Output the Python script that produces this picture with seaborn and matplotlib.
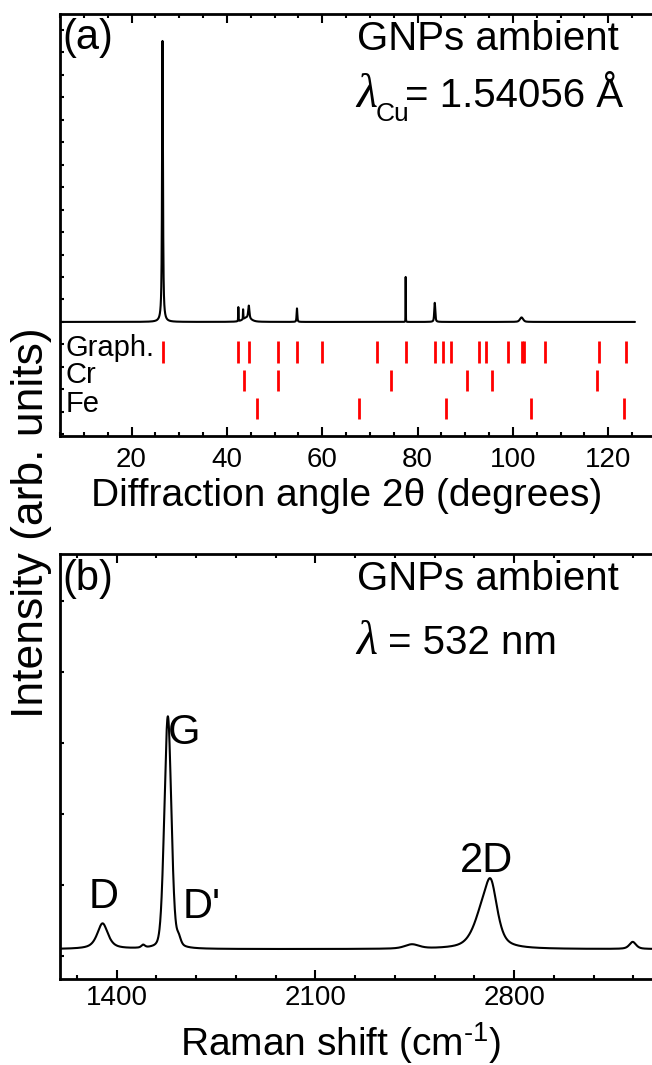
import numpy as np
import pandas as pd
import matplotlib
matplotlib.use("Agg")
import matplotlib.pyplot as plt
from matplotlib.ticker import MultipleLocator
import seaborn as sns

# ---------------- XRD pattern (Cu K-alpha) ----------------
xrd_range = (5.0, 125.6)
xrd_pos = [26.5, 42.4, 43.4, 44.6, 44.2, 54.7, 77.5, 83.6, 101.8]
xrd_height = [100.0, 5.0, 3.5, 4.5, 1.5, 4.8, 16.0, 6.8, 1.6]
xrd_fwhm = [0.22, 0.08, 0.08, 0.30, 2.0, 0.18, 0.06, 0.25, 0.8]
xrd_eta = [0.8, 0.5, 0.5, 0.6, 0.5, 0.6, 0.3, 0.6, 0.5]

# reference reflections (2theta, degrees)
graph_refl = [26.5, 42.4, 44.6, 50.7, 54.7, 59.9, 71.5, 77.5, 83.6, 85.4, 87.1,
              92.9, 94.3, 99.0, 101.9, 102.4, 106.7, 118.0, 123.8]
cr_refl = [43.5, 50.7, 74.5, 90.4, 95.7, 117.6]
fe_refl = [46.4, 67.7, 85.9, 103.7, 123.2]
phase_names = ["Graph.", "Cr", "Fe"]

# ---------------- Raman spectrum (532 nm) ----------------
raman_range = (1200.0, 3300.0)
raman_base = 0.10
raman_pos = [1350, 1493, 1580, 1618, 2440, 2682, 2718, 3218]
raman_height = [0.36, 0.04, 3.27, 0.12, 0.06, 0.35, 0.82, 0.10]
raman_fwhm = [45, 15, 29, 18, 60, 70, 55, 28]
raman_eta = [0.7, 0.5, 0.2, 0.5, 0.5, 0.6, 0.6, 0.6]
raman_labels = ["D", "G", "D'", "2D"]


def pseudo_voigt(x, pos, height, fwhm, eta):
    y = np.zeros_like(x)
    for p, h, w, e in zip(pos, height, fwhm, eta):
        hw = w / 2.0
        lor = 1.0 / (1.0 + ((x - p) / hw) ** 2)
        gau = np.exp(-np.log(2) * ((x - p) / hw) ** 2)
        y += h * (e * lor + (1 - e) * gau)
    return y


tt = np.arange(xrd_range[0], xrd_range[1], 0.01)
xrd_df = pd.DataFrame({"two_theta": tt,
                       "I": pseudo_voigt(tt, xrd_pos, xrd_height, xrd_fwhm, xrd_eta)})

shift = np.arange(raman_range[0], raman_range[1], 0.5)
raman_df = pd.DataFrame({"shift": shift,
                         "I": raman_base + pseudo_voigt(shift, raman_pos, raman_height,
                                                        raman_fwhm, raman_eta)})

# ---------------- figure ----------------
sns.set_theme(style="ticks")
plt.rcParams["font.family"] = ["Liberation Sans", "DejaVu Sans"]
plt.rcParams["mathtext.fontset"] = "custom"
plt.rcParams["mathtext.rm"] = "Liberation Sans"
plt.rcParams["text.color"] = "black"
plt.rcParams["axes.labelcolor"] = "black"

W, H = 652, 1065
fig = plt.figure(figsize=(W / 100, H / 100), dpi=100)


def box(left, top, right, bottom):
    return [left / W, 1 - bottom / H, (right - left) / W, (bottom - top) / H]


def fpos(x, y):
    return x / W, 1 - y / H


ax1 = fig.add_axes(box(60, 14, 656, 436))
ax2 = fig.add_axes(box(60, 554, 656, 979))

for ax in (ax1, ax2):
    for s in ax.spines.values():
        s.set_linewidth(2.0)
        s.set_color("black")
    ax.tick_params(which="both", direction="in", top=True, right=False,
                   width=1.5, colors="black", labelcolor="black", labelsize=20)
    ax.tick_params(which="major", length=6.5)
    ax.tick_params(which="minor", length=3.2)
    ax.tick_params(axis="y", which="both", labelleft=False, length=3.2)

# XRD panel
sns.lineplot(data=xrd_df, x="two_theta", y="I", ax=ax1, color="black",
             linewidth=1.5, estimator=None, sort=False)
ax1.set_xlim(5, 130)
ax1.set_ylim(-40.6, 109.6)
ax1.xaxis.set_major_locator(MultipleLocator(20))
ax1.xaxis.set_minor_locator(MultipleLocator(5))
ax1.yaxis.set_major_locator(MultipleLocator(8))
ax1.tick_params(axis="x", which="both", pad=8.0)

rows = [(graph_refl, -6.8, -14.6, -12.1), (cr_refl, -17.1, -24.6, -21.7),
        (fe_refl, -27.1, -34.5, -32.0)]
for name, (refl, y0, y1, ylab) in zip(phase_names, rows):
    ax1.vlines(refl, y1, y0, color="#ff0000", linewidth=2.0)
    ax1.text(6.1, ylab, name, fontsize=21, va="baseline", ha="left")

ax1.set_xlabel("Diffraction angle 2\u03b8 (degrees)", fontsize=28)
ax1.xaxis.set_label_coords(0.481, -0.0995)
ax1.set_ylabel("")

# Raman panel
sns.lineplot(data=raman_df, x="shift", y="I", ax=ax2, color="black",
             linewidth=1.5, estimator=None, sort=False)
ax2.set_xlim(*raman_range)
ax2.set_ylim(-0.32, 5.66)
ax2.xaxis.set_major_locator(MultipleLocator(700))
ax2.xaxis.set_minor_locator(MultipleLocator(140))
ax2.yaxis.set_major_locator(MultipleLocator(1))
ax2.tick_params(axis="x", which="both", pad=4)
ax2.set_xlabel("Raman shift (cm$^{\\text{-1}}$)", fontsize=28)
ax2.xaxis.set_label_coords(0.47, -0.098)
ax2.set_ylabel("")

# peak labels drawn at positions above the corresponding bands
lab_xy = {"D": (89, 908), "G": (168, 744), "D'": (183, 918), "2D": (460, 872)}
for lab in raman_labels:
    fig.text(*fpos(*lab_xy[lab]), lab, fontsize=30, ha="left", va="baseline")

# annotations
fig.text(*fpos(62, 49), "(a)", fontsize=30, va="baseline")
fig.text(*fpos(357, 50), "GNPs ambient", fontsize=29, va="baseline")
fig.text(*fpos(356, 107), "\u03bb", fontsize=35, va="baseline",
         family=["Liberation Serif"], style="italic")
fig.text(*fpos(376, 121), "Cu", fontsize=19, va="baseline")
fig.text(*fpos(405, 107), "= 1.54056 \u00c5", fontsize=29, va="baseline")

fig.text(*fpos(62, 590), "(b)", fontsize=30, va="baseline")
fig.text(*fpos(357, 590), "GNPs ambient", fontsize=29, va="baseline")
fig.text(*fpos(356, 654), "\u03bb", fontsize=35, va="baseline",
         family=["Liberation Serif"], style="italic")
fig.text(*fpos(388, 654), "= 532 nm", fontsize=29, va="baseline")

fig.text(*fpos(32, 523), "Intensity (arb. units)", fontsize=32, rotation=90,
         ha="center", va="center")

fig.savefig("out.png", dpi=100)
